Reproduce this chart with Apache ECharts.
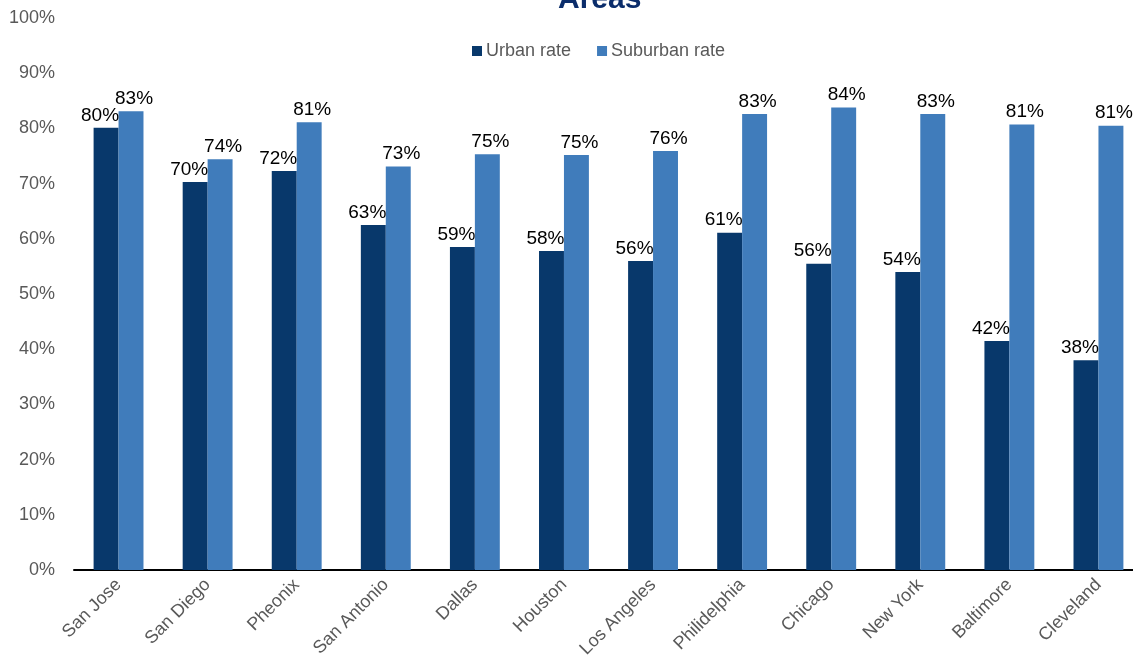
<!DOCTYPE html>
<html>
<head>
<meta charset="utf-8">
<script src="https://cdn.jsdelivr.net/npm/echarts@6/dist/echarts.min.js"></script>
<style>
  html, body { margin: 0; padding: 0; background: #fff; }
  #chart { width: 1133px; height: 669px; }
</style>
</head>
<body>
<div id="chart"></div>
<script>
  // cities and rates (percent)
  const cities = ['San Jose', 'San Diego', 'Pheonix', 'San Antonio', 'Dallas', 'Houston',
    'Los Angeles', 'Philidelphia', 'Chicago', 'New York', 'Baltimore', 'Cleveland'];
  const urbanRate = [80.1, 70.3, 72.3, 62.5, 58.5, 57.8, 56.0, 61.1, 55.5, 54.0, 41.5, 38.0];
  const suburbanRate = [83.1, 74.4, 81.1, 73.1, 75.3, 75.2, 75.9, 82.6, 83.8, 82.6, 80.7, 80.5];

  const chart = echarts.init(document.getElementById('chart'));
  const labelFont = 'Arial, "Liberation Sans", sans-serif';

  function barLabel() {
    return {
      show: true,
      position: 'top',
      distance: 3,
      color: '#000',
      fontSize: 19,
      fontFamily: labelFont,
      formatter: p => Math.round(p.value) + '%'
    };
  }

  chart.setOption({
    animation: false,
    title: {
      text: 'Areas',
      left: 553,
      top: -20,
      textStyle: { color: '#0b2d6b', fontSize: 30, fontWeight: 'bold', fontFamily: labelFont }
    },
    legend: {
      top: 37,
      left: 467,
      itemWidth: 10,
      itemHeight: 10,
      itemGap: 26,
      icon: 'rect',
      textStyle: { color: '#595959', fontSize: 18, fontFamily: labelFont, padding: [0, 0, 0, -1] },
      data: ['Urban rate', 'Suburban rate']
    },
    grid: { left: 74, width: 1069, top: 18, bottom: 99, outerBoundsMode: 'none', containLabel: false },
    xAxis: {
      type: 'category',
      data: cities,
      axisLine: { lineStyle: { color: '#000', width: 2 } },
      axisTick: { show: false },
      axisLabel: {
        rotate: 45,
        interval: 0,
        color: '#595959',
        fontSize: 18,
        fontFamily: labelFont,
        margin: 12
      }
    },
    yAxis: {
      type: 'value',
      min: 0,
      max: 100,
      interval: 10,
      axisLine: { show: false },
      axisTick: { show: false },
      splitLine: { show: false },
      axisLabel: {
        formatter: '{value}%',
        color: '#595959',
        fontSize: 18,
        fontFamily: labelFont,
        margin: 19
      }
    },
    series: [
      {
        name: 'Urban rate',
        type: 'bar',
        data: urbanRate,
        barGap: '0%',
        barCategoryGap: '44%',
        itemStyle: { color: '#08386b' },
        label: Object.assign(barLabel(), { offset: [-6, 0] })
      },
      {
        name: 'Suburban rate',
        type: 'bar',
        data: suburbanRate,
        itemStyle: { color: '#407cbb' },
        label: Object.assign(barLabel(), { offset: [3, 0] })
      }
    ]
  });
</script>
</body>
</html>
